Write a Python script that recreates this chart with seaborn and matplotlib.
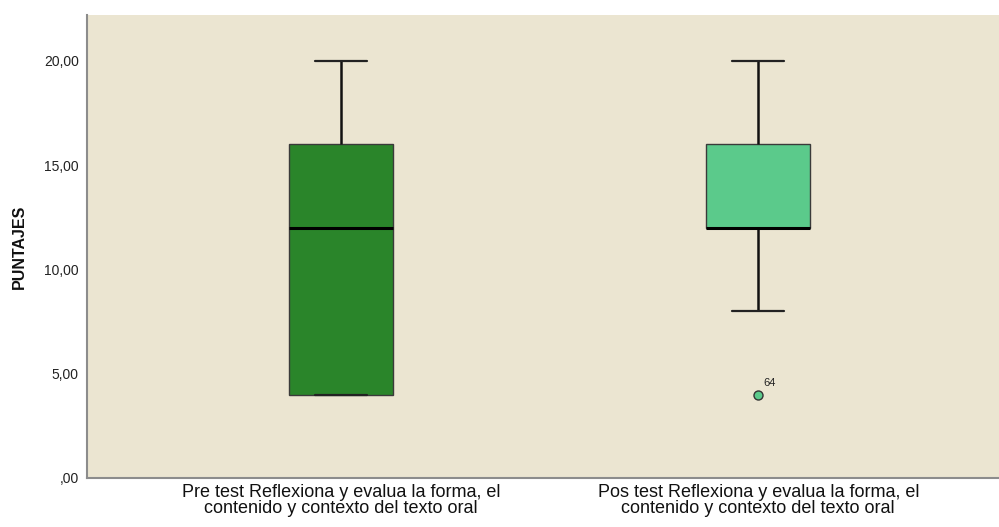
import matplotlib
matplotlib.use("Agg")
import matplotlib.pyplot as plt
import seaborn as sns
import pandas as pd

categories = ["Pre test Reflexiona y evalua la forma, el\ncontenido y contexto del texto oral",
              "Pos test Reflexiona y evalua la forma, el\ncontenido y contexto del texto oral"]
pre_scores = [4, 4, 4, 12, 16, 16, 20]
pos_scores = [4, 8, 12, 12, 12, 12, 16, 16, 20]
box_colors = ["#2A852A", "#5BCA8B"]
outlier_label = "64"
y_ticks = [0, 5, 10, 15, 20]
y_tick_labels = [",00", "5,00", "10,00", "15,00", "20,00"]
y_label = "PUNTAJES"

df = pd.DataFrame({
    "grupo": [categories[0]] * len(pre_scores) + [categories[1]] * len(pos_scores),
    "puntaje": pre_scores + pos_scores,
})

sns.set_style("white")
plt.rcParams["font.family"] = ["Liberation Sans", "DejaVu Sans"]

fig = plt.figure(figsize=(9.99, 5.27), dpi=100)
ax = fig.add_axes([0.0871, 0.093, 0.9129, 0.8785])
ax.set_facecolor("#EBE5D1")

sns.boxplot(data=df, x="grupo", y="puntaje", hue="grupo", palette=box_colors,
            order=categories, legend=False, width=0.25, whis=1.5, saturation=1,
            linewidth=1.2, linecolor="#222222",
            boxprops=dict(edgecolor="#3A3A3A", linewidth=1.0),
            whiskerprops=dict(color="#111111", linewidth=1.8),
            capprops=dict(color="#222222", linewidth=1.6),
            medianprops=dict(color="#000000", linewidth=2.2),
            flierprops=dict(marker="o", markersize=6.5, markerfacecolor=box_colors[1],
                            markeredgecolor="#333333", markeredgewidth=1.0),
            ax=ax)

# outlier label
s = pd.Series(pos_scores)
q1, q3 = s.quantile(0.25), s.quantile(0.75)
out_val = s[s < q1 - 1.5 * (q3 - q1)].min()
ax.annotate(outlier_label, xy=(1, out_val), xytext=(4, 5), textcoords="offset points",
            fontsize=8, color="#222222", ha="left", va="bottom")

ax.set_xlim(-0.609, 1.577)
ax.set_ylim(0, 22.2)
ax.set_yticks(y_ticks)
ax.set_yticklabels(y_tick_labels, fontsize=10, color="#222222")
ax.tick_params(axis="y", length=0, pad=6)
ax.tick_params(axis="x", length=0, pad=4)
for lbl in ax.get_xticklabels():
    lbl.set_fontsize(13)
    lbl.set_color("#111111")
    lbl.set_linespacing(0.95)
ax.set_xlabel("")
ax.set_ylabel(y_label, fontsize=11.5, fontweight="bold", color="#111111", labelpad=12)

for side in ["top", "right"]:
    ax.spines[side].set_visible(False)
for side in ["left", "bottom"]:
    ax.spines[side].set_color("#8C8C8C")
    ax.spines[side].set_linewidth(1.5)

fig.savefig("out.png", dpi=100, facecolor="white")
